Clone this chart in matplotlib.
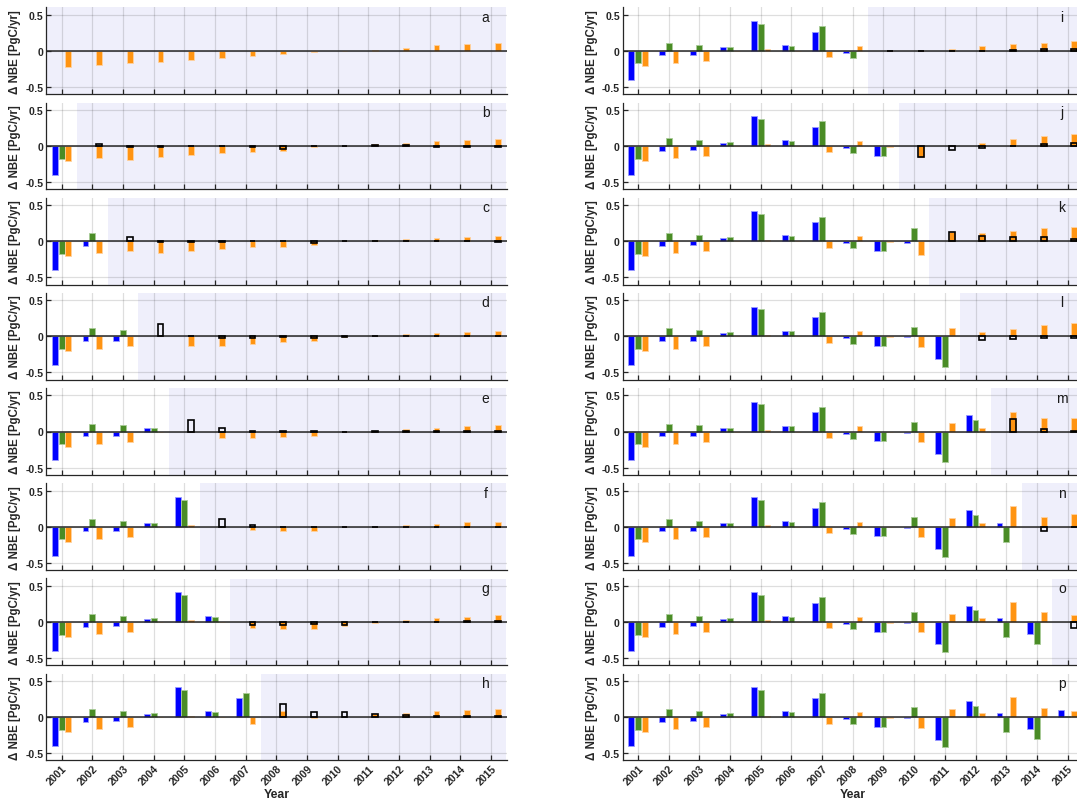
import numpy as np
import matplotlib
matplotlib.use("Agg")
import matplotlib.pyplot as plt
from matplotlib.patches import Rectangle

plt.rcParams['font.family'] = ['Liberation Sans', 'DejaVu Sans']

years = np.arange(2001, 2016)
year_labels = [str(y) for y in years]
panel_letters = list("abcdefghijklmnop")

# Annual NBE anomalies [PgC/yr] for 2001-2015
nbe_blue = [-0.40, -0.065, -0.06, 0.045, 0.41, 0.08, 0.265, -0.03, -0.135, -0.015,
            -0.31, 0.225, 0.05, -0.165, 0.105]
nbe_green = [-0.175, 0.11, 0.085, 0.055, 0.375, 0.07, 0.34, -0.10, -0.135, 0.135,
             -0.42, 0.16, -0.21, -0.30, 0.01]
nbe_orange = [-0.21, -0.17, -0.14, 0.0, 0.02, 0.0, -0.09, 0.07, -0.01, -0.145,
              0.115, 0.055, 0.28, 0.13, 0.09]

# First estimate of the newest year in panel k (2010)
first_2010_blue = -0.02
first_2010_green = 0.18
first_2010_orange = -0.19

# Predicted anomalies for the years after the last observed one (panels a-o)
forecast_orange = [
    [-0.22, -0.20, -0.17, -0.15, -0.13, -0.10, -0.07, -0.05, -0.02, 0.0, 0.01, 0.04, 0.08, 0.09, 0.11],
    [-0.17, -0.19, -0.15, -0.125, -0.10, -0.08, -0.07, -0.02, 0.0, 0.02, 0.04, 0.065, 0.08, 0.09],
    [-0.14, -0.165, -0.135, -0.11, -0.085, -0.075, -0.05, -0.005, 0.01, 0.03, 0.04, 0.06, 0.075],
    [0.0, -0.13, -0.13, -0.105, -0.08, -0.07, -0.01, 0.0, 0.03, 0.045, 0.065, 0.08],
    [0.0, -0.09, -0.09, -0.07, -0.065, -0.01, 0.0, 0.03, 0.05, 0.07, 0.085],
    [0.0, -0.05, -0.065, -0.065, -0.01, 0.0, 0.03, 0.04, 0.06, 0.07],
    [-0.09, -0.105, -0.10, -0.055, -0.01, 0.03, 0.05, 0.07, 0.09],
    [0.08, -0.01, 0.0, 0.04, 0.06, 0.08, 0.10, 0.11],
    [-0.005, 0.0, 0.03, 0.06, 0.09, 0.11, 0.135],
    [-0.155, 0.0, 0.035, 0.09, 0.135, 0.17],
    [0.125, 0.11, 0.14, 0.18, 0.20],
    [0.055, 0.10, 0.16, 0.185],
    [0.27, 0.19, 0.19],
    [0.13, 0.175],
    [0.095],
]
forecast_box = [
    [],
    [0.03, -0.02, -0.01, -0.005, -0.005, -0.02, -0.04, -0.005, -0.005, 0.01, 0.01, -0.02, -0.02, -0.02],
    [0.05, -0.01, -0.01, -0.01, 0.0, 0.0, -0.03, -0.005, 0.0, -0.005, -0.005, -0.005, -0.01],
    [0.17, 0.0, -0.02, -0.02, -0.01, -0.02, -0.005, 0.0, 0.0, 0.0, 0.0, 0.0],
    [0.16, 0.05, 0.01, 0.01, 0.01, 0.0, 0.01, 0.01, 0.01, 0.01, 0.01],
    [0.10, 0.03, -0.01, -0.01, -0.01, 0.0, 0.0, 0.0, 0.0, 0.0],
    [-0.04, -0.04, -0.03, -0.04, -0.005, 0.0, 0.0, 0.01, 0.01],
    [0.175, 0.07, 0.07, 0.04, 0.03, 0.02, 0.02, 0.02],
    [0.0, -0.01, 0.0, 0.0, 0.015, 0.02, 0.02],
    [-0.155, -0.05, -0.03, 0.0, 0.02, 0.04],
    [0.125, 0.07, 0.05, 0.05, 0.03],
    [-0.055, -0.04, -0.02, -0.02],
    [0.175, 0.035, 0.01],
    [-0.06, -0.01],
    [-0.08],
]

C_BLUE = '#0000ff'
C_GREEN = '#4a8c26'
C_ORANGE = '#ff9412'
E_BLUE = '#9a9aff'
E_GREEN = '#a9cc98'
E_ORANGE = '#ffd2a0'
SHADE = '#efeffb'
AXC = '#262626'

W, H = 1077, 803
fig = plt.figure(figsize=(W / 100, H / 100), dpi=100)

col_left = [46.3, 622.7]
ax_w = 460.2
row_top0 = 8.3
row_pitch = 95.2
ax_h = 86.8
bw = 0.19
off = 0.22

for p in range(16):
    col = p // 8
    row = p % 8
    top = row_top0 + row * row_pitch
    ax = fig.add_axes([col_left[col] / W, 1 - (top + ax_h) / H, ax_w / W, ax_h / H])
    ax.set_xlim(2000.5, 2015.5)
    ax.set_ylim(-0.6, 0.6)

    n_obs = p
    blue = list(nbe_blue[:n_obs])
    green = list(nbe_green[:n_obs])
    orange = list(nbe_orange[:n_obs])
    if p == 10:
        blue[-1], green[-1], orange[-1] = first_2010_blue, first_2010_green, first_2010_orange

    # forecast period shading
    if p < 15:
        ax.axvspan(2000.5 + p, 2015.5, color=SHADE, zorder=0, lw=0)

    ax.grid(True, color='black', alpha=0.13, lw=0.9, zorder=1)
    ax.set_axisbelow(True)

    yo = years[:n_obs]
    if n_obs:
        ax.bar(yo - off, blue, bw, color=C_BLUE, edgecolor=E_BLUE, lw=0.6, zorder=3)
        ax.bar(yo, green, bw, color=C_GREEN, edgecolor=E_GREEN, lw=0.6, zorder=3)
        ax.bar(yo + off, orange, bw, color=C_ORANGE, edgecolor=E_ORANGE, lw=0.6, zorder=3)

    if p < 15:
        yf = years[n_obs:]
        ax.bar(yf + off, forecast_orange[p], bw, color=C_ORANGE, edgecolor=E_ORANGE,
               lw=0.6, zorder=3)
        boxes = forecast_box[p]
        if boxes:
            ax.bar(yf + off, boxes, bw, fill=False, edgecolor='black', lw=1.2, zorder=5)

    ax.axhline(0, color=AXC, lw=1.1, zorder=4)

    for side in ('top', 'right'):
        ax.spines[side].set_visible(False)
    for side in ('left', 'bottom'):
        ax.spines[side].set_color(AXC)
        ax.spines[side].set_linewidth(0.9)

    ax.set_yticks([-0.5, 0, 0.5])
    ax.set_yticklabels(['-0.5', '0', '0.5'], fontsize=7.6, fontweight='bold', color=AXC)
    ax.set_xticks(years)
    ax.tick_params(direction='in', length=3.5, width=0.9, color=AXC, pad=2)
    if row == 7:
        ax.set_xticklabels(year_labels, rotation=45, ha='right', rotation_mode='anchor',
                           fontsize=7.6, fontweight='bold', color=AXC)
        ax.set_xlabel('Year', fontsize=8.8, fontweight='bold', color=AXC, labelpad=1)
    else:
        ax.set_xticklabels([])

    ax.set_ylabel('\u0394 NBE [PgC/yr]', fontsize=8.3, fontweight='bold', color=AXC,
                  labelpad=3)
    ax.text(2014.82, 0.47, panel_letters[p], fontsize=10, ha='center', va='center',
            color='#1a1a1a', zorder=6)

fig.savefig('out.png', dpi=100)
